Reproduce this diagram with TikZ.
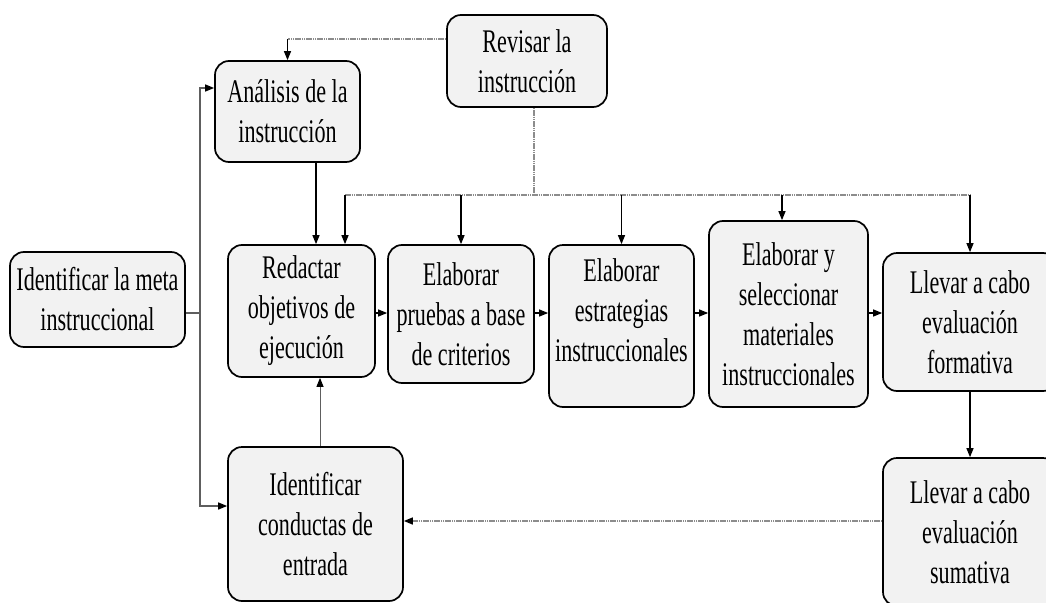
\documentclass[tikz,border=0pt]{standalone}
\usepackage{fontspec}
\newfontfamily\boxfont[FakeStretch=0.67]{Liberation Serif}
\usetikzlibrary{arrows.meta}
\definecolor{boxfill}{HTML}{F2F2F2}
\definecolor{linkgray}{HTML}{8C8C8C}
\definecolor{trunkgray}{HTML}{5E5E5E}
\begin{document}
\begin{tikzpicture}[x=1pt,y=-1pt,
  stage/.style={draw=black, line width=1.7pt, fill=boxfill, rounded corners=14pt,
    inner sep=0pt, align=center, font={\boxfont\fontsize{33}{40}\selectfont}},
  headed/.style={-{Triangle[length=9pt,width=7pt,color=black]}},
  link/.style={draw=black, line width=1.2pt, headed},
  feed/.style={draw=linkgray, line width=1.4pt, dash pattern=on 1.6pt off 0.6pt},
  trunk/.style={draw=trunkgray, line width=1.4pt}
]
\useasboundingbox (0,0) rectangle (1046,602);

% process stages
\node[stage, minimum width=160pt, minimum height=92pt]  (rev)  at (527,61)     {Revisar la\\instrucción};
\node[stage, minimum width=145pt, minimum height=101pt] (ana)  at (287.5,111.5) {Análisis de la\\instrucción};
\node[stage, minimum width=175pt, minimum height=95pt]  (meta) at (97.5,299.5)  {Identificar la meta\\instruccional};
\node[stage, minimum width=147pt, minimum height=132pt] (red)  at (301.5,311)   {Redactar\\objetivos de\\ejecución};
\node[stage, minimum width=146pt, minimum height=138pt] (pru)  at (461,314)     {Elaborar\\pruebas a base\\de criterios};
\node[stage, minimum width=145pt, minimum height=162pt] (est)  at (621.5,326)
  {\raisebox{13pt}[\height][\depth]{\begin{tabular}{@{}c@{}}Elaborar\\estrategias\\instruccionales\end{tabular}}};
\node[stage, minimum width=159pt, minimum height=186pt] (sel)  at (788.5,314)   {Elaborar y\\seleccionar\\materiales\\instruccionales};
\node[stage, minimum width=174pt, minimum height=138pt] (form) at (970,322)     {Llevar a cabo\\evaluación\\formativa};
\node[stage, minimum width=175pt, minimum height=154pt] (cond) at (315.5,524)   {Identificar\\conductas de\\entrada};
\node[stage, minimum width=174pt, minimum height=148pt] (sum)  at (970,532)     {Llevar a cabo\\evaluación\\sumativa};

% helper points
\coordinate (j)    at (200,313);
\coordinate (row)  at (0,313);
\coordinate (row2) at (0,521);
\coordinate (busL) at (345,195);
\coordinate (busR) at (970,195);
\coordinate (c3)   at (320,0);
\coordinate (r1) at ([yshift=22pt]rev.west);
\coordinate (r2) at ([xshift=7pt]rev.south);
\coordinate (c1) at ([xshift=28.5pt]ana.south);
\coordinate (s1) at ([xshift=-6.5pt]sel.north);

% left trunk from the goal
\draw[trunk] (meta.east |- j) -- (j);
\draw[trunk, headed] (j) |- ([yshift=23.5pt]ana.west);
\draw[trunk, headed] (j) |- ([yshift=18pt]cond.west);

% revision feedback
\draw[feed] (r1) -- (r1 -| ana.north);
\draw[link] (r1 -| ana.north) -- (ana.north);
\draw[feed] (r2) -- (r2 |- busL);
\draw[feed] (busL) -- (busR);
\draw[link] (busL) -- (busL |- red.north);
\draw[link] (pru.north |- busL) -- (pru.north);
\draw[link] (est.north |- busL) -- (est.north);
\draw[link] (s1 |- busL) -- (s1);
\draw[link] (busR) -- (form.north);

% main sequence
\draw[link] (c1) -- (c1 |- red.north);
\draw[link] (red.east |- row) -- (pru.west |- row);
\draw[link] (pru.east |- row) -- (est.west |- row);
\draw[link] (est.east |- row) -- (sel.west |- row);
\draw[link] (sel.east |- row) -- (form.west |- row);
\draw[link] (form.south) -- (sum.north);
\draw[feed, headed] (sum.west |- row2) -- (cond.east |- row2);
\draw[link, draw=trunkgray, line width=1pt] (cond.north -| c3) -- (red.south -| c3);
\end{tikzpicture}
\end{document}
